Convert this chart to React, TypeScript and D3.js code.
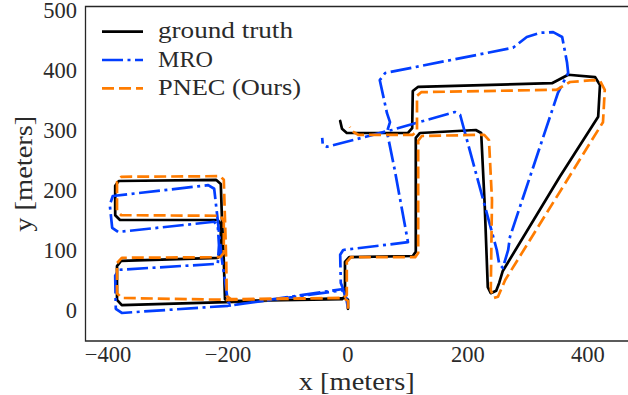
import React from 'react';
import * as d3 from 'd3';

const xTicks = [-400, -200, 0, 200, 400];
const yTicks = [0, 100, 200, 300, 400, 500];

const groundTruth: [number, number][] = [
  [0, 2], [0, 17], [-5, 20], [-203, 13], [-377, 8], [-385, 17], [-385, 73], [-378, 82],
  [-217, 87], [-212, 93], [-212, 143], [-217, 150], [-380, 150], [-388, 158], [-388, 207],
  [-382, 215], [-220, 217], [-212, 210], [-210, 150], [-207, 83], [-205, 18], [-198, 15],
  [-10, 18], [-5, 23], [-5, 80], [2, 88], [108, 90], [113, 97], [113, 287], [120, 295],
  [213, 300], [222, 295], [228, 172], [233, 38], [238, 28], [247, 32], [252, 45], [258, 65],
  [353, 222], [417, 322], [420, 375], [412, 388], [367, 392], [340, 378], [117, 372],
  [108, 365], [107, 303], [100, 295], [-2, 295], [-10, 302], [-13, 315],
];

const mro: [number, number][] = [
  [0, 3], [-3, 20], [-8, 33], [-200, 7], [-377, -5], [-387, 2], [-388, 57], [-382, 67],
  [-217, 77], [-215, 108], [-217, 140], [-223, 147], [-383, 130], [-393, 137], [-397, 175],
  [-392, 190], [-233, 208], [-223, 202], [-218, 158], [-210, 83], [-200, 13], [-192, 8],
  [-8, 35], [-12, 45], [-13, 92], [-8, 100], [100, 113], [78, 233], [65, 297], [70, 313],
  [65, 328], [53, 383], [62, 395], [275, 437], [298, 455], [320, 462], [342, 463],
  [357, 455], [365, 413], [367, 395], [350, 362], [270, 122], [267, 100], [258, 70],
  [252, 77], [248, 100], [187, 325], [178, 330], [73, 300], [-35, 272], [-42, 275], [-43, 287],
];

const pnec: [number, number][] = [
  [0, 2], [0, 15], [-7, 20], [-203, 17], [-377, 20], [-385, 28], [-385, 78], [-377, 87],
  [-213, 88], [-207, 95], [-207, 147], [-212, 157], [-378, 158], [-385, 165], [-385, 213],
  [-378, 222], [-213, 223], [-207, 217], [-205, 150], [-203, 83], [-202, 23], [-195, 18],
  [-7, 20], [-2, 25], [-2, 80], [5, 88], [112, 88], [117, 95], [117, 282], [123, 290],
  [227, 292], [235, 283], [240, 183], [238, 33], [243, 20], [250, 22], [262, 50],
  [425, 313], [428, 367], [420, 382], [408, 383], [370, 380], [348, 367], [122, 363],
  [115, 357], [115, 298], [108, 292], [17, 292], [7, 298], [3, 305],
];

const seriesNames = ['ground truth', 'MRO', 'PNEC (Ours)'];
const seriesColors = ['#000000', '#023eff', '#ff7c00'];
const seriesDash = ['none', '21,4.5,3,4.5', '12,5'];
const legendWidths = [135, 55, 143];

const W = 628;
const H = 395;
const FONT = '"Liberation Serif", "DejaVu Serif", serif';
const TEXT_COLOR = '#2a2a2a';

export default function App() {
  const x = d3.scaleLinear().domain([-437.5, 466.7]).range([85.5, 628]);
  const y = d3.scaleLinear().domain([-51.7, 505.8]).range([341, 6.5]);
  const line = d3
    .line<[number, number]>()
    .x((d) => x(d[0]))
    .y((d) => y(d[1]));
  const data = [groundTruth, mro, pnec];
  const left = x.range()[0];
  const bottom = y.range()[0];
  const top = y.range()[1];
  const right = x.range()[1];

  return (
    <svg
      width={W}
      height={H}
      style={{ position: 'absolute', left: 0, top: 0, background: '#fff' }}
    >
      <rect x={0} y={0} width={W} height={H} fill="#fff" />
      {data.map((d, i) => (
        <path
          key={i}
          d={line(d) || ''}
          fill="none"
          stroke={seriesColors[i]}
          strokeWidth={2.7}
          strokeDasharray={seriesDash[i]}
          strokeLinejoin="round"
          strokeLinecap={i === 0 ? 'round' : 'butt'}
        />
      ))}
      <path
        d={`M${right},${top} H${left} V${bottom} H${right}`}
        fill="none"
        stroke="#262626"
        strokeWidth={1.3}
      />
      {yTicks.map((t) => (
        <text
          key={t}
          x={77}
          y={y(t) + 7.8}
          textAnchor="end"
          fontFamily={FONT}
          fontSize={22.5}
          fill={TEXT_COLOR}
        >
          {t < 0 ? '\u2212' + Math.abs(t) : t}
        </text>
      ))}
      {xTicks.map((t) => (
        <text
          key={t}
          x={x(t)}
          y={362}
          textAnchor="middle"
          fontFamily={FONT}
          fontSize={22.5}
          fill={TEXT_COLOR}
        >
          {t < 0 ? '\u2212' + Math.abs(t) : t}
        </text>
      ))}
      <text
        x={(left + right) / 2}
        y={389.5}
        textAnchor="middle"
        fontFamily={FONT}
        fontSize={24.5}
        fill={TEXT_COLOR}
        textLength={116}
        lengthAdjust="spacingAndGlyphs"
      >
        x [meters]
      </text>
      <text
        transform={`translate(32,${(top + bottom) / 2}) rotate(-90)`}
        textAnchor="middle"
        fontFamily={FONT}
        fontSize={26}
        fill={TEXT_COLOR}
        textLength={116}
        lengthAdjust="spacingAndGlyphs"
      >
        y [meters]
      </text>
      {seriesNames.map((name, i) => {
        const cy = 31.7 + i * 28.3;
        return (
          <g key={name}>
            <line
              x1={102}
              x2={143}
              y1={cy}
              y2={cy}
              stroke={seriesColors[i]}
              strokeWidth={2.7}
              strokeDasharray={seriesDash[i]}
            />
            <text
              x={158}
              y={cy + 6.6}
              fontFamily={FONT}
              fontSize={22.5}
              fill={TEXT_COLOR}
              textLength={legendWidths[i]}
              lengthAdjust="spacingAndGlyphs"
            >
              {name}
            </text>
          </g>
        );
      })}
    </svg>
  );
}
